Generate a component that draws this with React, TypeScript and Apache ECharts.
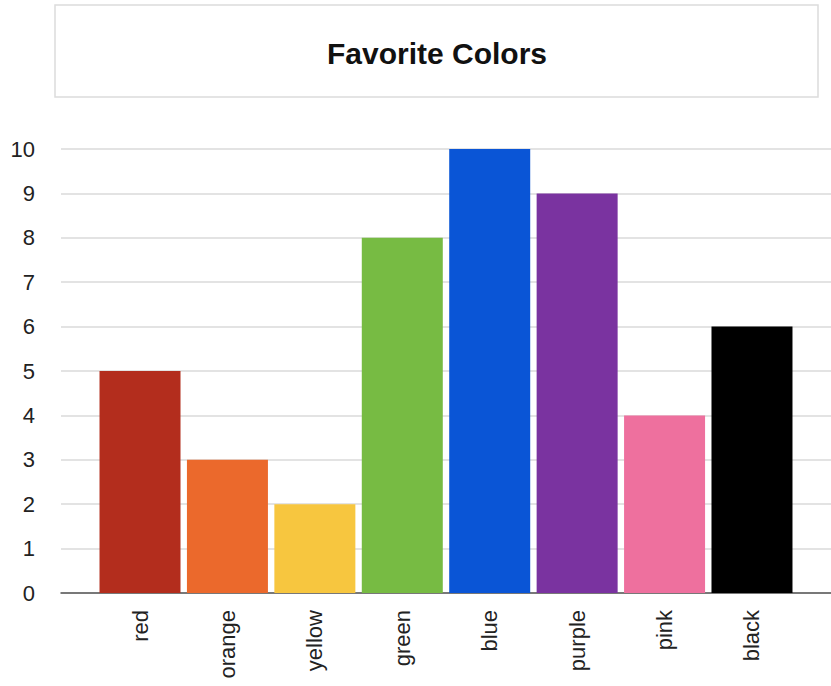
import React, { useEffect, useRef } from "react";
import * as echarts from "echarts";

const categories = ["red", "orange", "yellow", "green", "blue", "purple", "pink", "black"];
const values = [5, 3, 2, 8, 10, 9, 4, 6];
const barColors = ["#B32D1D", "#EB692C", "#F7C63F", "#77BB43", "#0A55D6", "#7A33A0", "#EE709E", "#000000"];
const yTicks = { min: 0, max: 10, interval: 1 };
const titleText = "Favorite Colors";

const FONT = "'Liberation Sans', Arial, Helvetica, sans-serif";

export default function App() {
  const ref = useRef<HTMLDivElement>(null);
  useEffect(() => {
    if (!ref.current) return;
    const chart = echarts.init(ref.current, null, { renderer: "svg" });
    chart.setOption({
      animation: false,
      backgroundColor: "#ffffff",
      textStyle: { fontFamily: FONT },
      title: {
        text: titleText,
        left: 437,
        top: 38,
        padding: 0,
        textAlign: "center",
        textStyle: { fontFamily: FONT, fontSize: 30, fontWeight: "bold", color: "#111" },
      },
      graphic: [
        {
          type: "rect",
          shape: { x: 55, y: 5, width: 763, height: 92 },
          style: { fill: "none", stroke: "#dcdcdc", lineWidth: 1.5 },
          z: -1,
        },
      ],
      grid: [
        { left: 61, right: 0, top: 149, height: 444 },
        { left: 96.3, width: 699.4, top: 149, height: 444 },
      ],
      xAxis: [
        {
          type: "value",
          gridIndex: 0,
          min: 0,
          max: 1,
          axisLine: { show: true, lineStyle: { color: "#555", width: 1.5 } },
          axisTick: { show: false },
          axisLabel: { show: false },
          splitLine: { show: false },
        },
        {
          type: "category",
          gridIndex: 1,
          data: categories,
          axisLine: { show: false },
          axisTick: { show: false },
          axisLabel: { rotate: 90, fontSize: 22, margin: 17, color: "#222", fontFamily: FONT },
        },
      ],
      yAxis: [
        {
          type: "value",
          gridIndex: 0,
          min: yTicks.min,
          max: yTicks.max,
          interval: yTicks.interval,
          axisLine: { show: false },
          axisTick: { show: false },
          axisLabel: { fontSize: 22, margin: 26, color: "#222", fontFamily: FONT, padding: [5, 0, 0, 0] },
          splitLine: { show: true, lineStyle: { color: "#dadada", width: 1.5 } },
        },
        {
          type: "value",
          gridIndex: 1,
          min: yTicks.min,
          max: yTicks.max,
          interval: yTicks.interval,
          show: false,
          splitLine: { show: false },
        },
      ],
      series: [
        {
          type: "bar",
          xAxisIndex: 1,
          yAxisIndex: 1,
          barWidth: 81,
          data: values.map((v, i) => ({ value: v, itemStyle: { color: barColors[i] } })),
        },
      ],
    });
    return () => chart.dispose();
  }, []);
  return (
    <div
      ref={ref}
      style={{ position: "absolute", left: 0, top: 0, width: 831, height: 686 }}
    />
  );
}
